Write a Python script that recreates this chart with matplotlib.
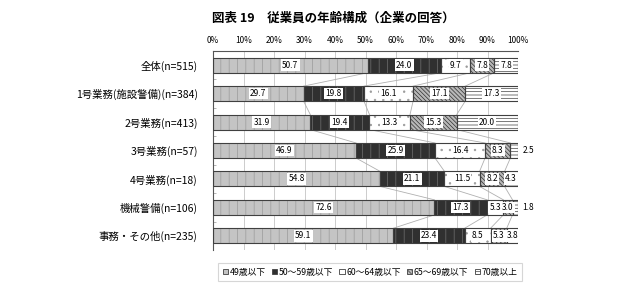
import matplotlib
matplotlib.use("Agg")
import matplotlib.pyplot as plt
from matplotlib.patches import Patch
import numpy as np

plt.rcParams['font.family'] = ['Noto Sans CJK JP', 'DejaVu Sans']
plt.rcParams['hatch.linewidth'] = 0.5

categories = ["全体(n=515)", "1号業務(施設警備)(n=384)", "2号業務(n=413)",
              "3号業務(n=57)", "4号業務(n=18)", "機械警備(n=106)", "事務・その他(n=235)"]
series_names = ["49歳以下", "50～59歳以下", "60～64歳以下", "65～69歳以下", "70歳以上"]
age_49 = [50.7, 29.7, 31.9, 46.9, 54.8, 72.6, 59.1]
age_50_59 = [24.0, 19.8, 19.4, 25.9, 21.1, 17.3, 23.4]
age_60_64 = [9.7, 16.1, 13.3, 16.4, 11.5, 5.3, 8.5]
age_65_69 = [7.8, 17.1, 15.3, 8.3, 8.2, 3.0, 5.3]
age_70 = [7.8, 17.3, 20.0, 2.5, 4.3, 1.8, 3.8]

data = np.array([age_49, age_50_59, age_60_64, age_65_69, age_70])
faces = ["#c4c4c4", "#303030", "#ffffff", "#b8b8b8", "#ffffff"]
hatch_cols = ["#9a9a9a", "#707070", "#9a9a9a", "#303030", "#404040"]
hatches = ["||", "||", "..", "\\\\\\\\\\\\\\\\", "-----"]

fig = plt.figure(figsize=(6.4, 3.04), dpi=100)
ax = fig.add_axes([213 / 640, 1 - 250 / 304, 305 / 640, 199 / 304])

y = np.arange(len(categories))
h = 0.53
lefts = np.zeros(len(categories))
for j in range(len(series_names)):
    ax.barh(y, data[j], left=lefts, height=h, color=faces[j], hatch=hatches[j],
            edgecolor=hatch_cols[j], linewidth=0, zorder=2)
    ax.barh(y, data[j], left=lefts, height=h, fill=False, edgecolor="#404040",
            linewidth=0.8, zorder=3)
    for i, v in enumerate(data[j]):
        if v < 2.6:
            ax.text(101.5, y[i], f"{v:.1f}", ha="left", va="center", fontsize=6,
                    zorder=5)
        else:
            ax.text(lefts[i] + v / 2, y[i], f"{v:.1f}", ha="center", va="center",
                    fontsize=6, zorder=5,
                    bbox=dict(boxstyle="square,pad=0.15", fc="white", ec="none"))
    lefts = lefts + data[j]

# series lines between bars
cum = np.cumsum(data, axis=0)
for k in range(4):
    for i in range(len(categories) - 1):
        ax.plot([cum[k, i], cum[k, i + 1]], [y[i] + h / 2, y[i + 1] - h / 2],
                color="#b0b0b0", lw=0.6, zorder=1)

ax.set_xlim(0, 100)
ax.set_ylim(6.5, -0.5)
ax.set_xticks(np.arange(0, 101, 10))
ax.set_xticklabels([f"{t}%" for t in range(0, 101, 10)], fontsize=6)
ax.xaxis.tick_top()
ax.tick_params(axis="x", length=0, pad=4)
ax.set_yticks(y)
ax.set_yticklabels(categories, fontsize=7.5)
ax.tick_params(axis="y", length=0, pad=11)
ax.set_yticks(y[:-1] + 0.5, minor=True)
ax.tick_params(axis="y", which="minor", length=2.5, direction="in", color="#aaaaaa")
ax.grid(axis="x", color="#cccccc", lw=0.7, zorder=0)
ax.set_axisbelow(True)
for s in ["right", "bottom"]:
    ax.spines[s].set_visible(False)
ax.spines["top"].set_color("#555555")
ax.spines["left"].set_color("#555555")
ax.spines["top"].set_linewidth(0.8)
ax.spines["left"].set_linewidth(0.8)

fig.text(212 / 640, 1 - 18 / 304, "図表 19　従業員の年齢構成（企業の回答）",
         ha="left", va="center", fontsize=9, fontweight="bold")

handles = [Patch(facecolor=faces[j], hatch=hatches[j], edgecolor="#404040", linewidth=0.6)
           for j in range(len(series_names))]
leg = fig.legend(handles, series_names, loc="center", bbox_to_anchor=(370 / 640, 1 - 272 / 304),
                 ncol=5, fontsize=6.3, frameon=True, fancybox=False, edgecolor="#cccccc",
                 handlelength=0.6, handleheight=0.6, handletextpad=0.2, columnspacing=0.7,
                 borderpad=0.5)
leg.get_frame().set_linewidth(0.8)

fig.savefig("out.png", dpi=100, facecolor="white")
